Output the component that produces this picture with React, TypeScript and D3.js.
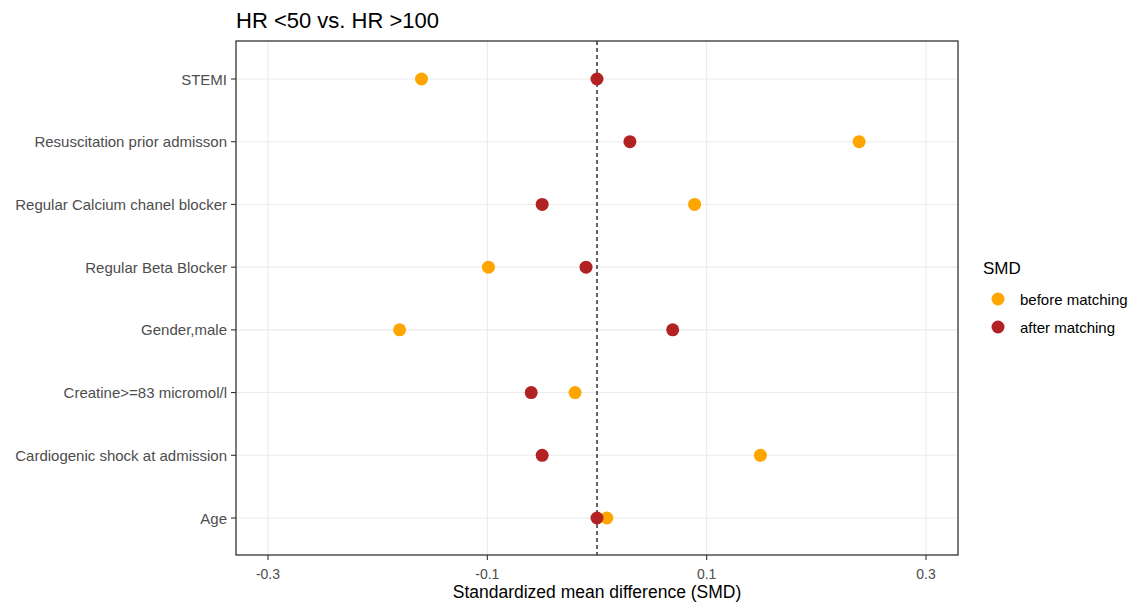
import React from 'react';
import * as d3 from 'd3';

const categories = [
  'STEMI',
  'Resuscitation prior admisson',
  'Regular Calcium chanel blocker',
  'Regular Beta Blocker',
  'Gender,male',
  'Creatine>=83 micromol/l',
  'Cardiogenic shock at admission',
  'Age',
];
const beforeMatching = [-0.16, 0.239, 0.089, -0.099, -0.18, -0.02, 0.149, 0.009];
const afterMatching = [0.0, 0.03, -0.05, -0.01, 0.069, -0.06, -0.05, 0.0];
const xTicks = [-0.3, -0.1, 0.1, 0.3];

const MARGIN = { top: 41, right: 179, bottom: 48, left: 236 };
const FONT = 'Arial, "Liberation Sans", sans-serif';

export default function App() {
  const width = 1137,
    height = 603;
  const boundsWidth = width - MARGIN.left - MARGIN.right;
  const boundsHeight = height - MARGIN.top - MARGIN.bottom;

  // 0 sits at x=597 on the page, 0.1 spans ~109.7px
  const xScale = d3
    .scaleLinear()
    .domain([-0.3 - 32 / 1097, 0.3 + 32 / 1097])
    .range([0, boundsWidth]);

  const yScale = d3
    .scalePoint()
    .domain(categories)
    .range([38, boundsHeight - 37]);

  const gridV = xTicks.map((t) => (
    <line key={t} x1={xScale(t)} x2={xScale(t)} y1={0} y2={boundsHeight} stroke="#ebebeb" strokeWidth={1.1} />
  ));
  const gridH = categories.map((c) => (
    <line key={c} x1={0} x2={boundsWidth} y1={yScale(c)} y2={yScale(c)} stroke="#ebebeb" strokeWidth={1.1} />
  ));

  const points = categories.map((c, i) => (
    <g key={c}>
      <circle cx={xScale(beforeMatching[i])} cy={yScale(c)} r={6.5} fill="#FFA500" />
      <circle cx={xScale(afterMatching[i])} cy={yScale(c)} r={6.5} fill="#B22222" />
    </g>
  ));

  const yLabels = categories.map((c) => (
    <g key={c}>
      <line x1={-5} x2={0} y1={yScale(c)} y2={yScale(c)} stroke="#333" strokeWidth={1.1} />
      <text x={-9} y={yScale(c)} textAnchor="end" dominantBaseline="central" fontSize={15} fill="#4d4d4d">
        {c}
      </text>
    </g>
  ));

  const xLabels = xTicks.map((t) => (
    <g key={t}>
      <line x1={xScale(t)} x2={xScale(t)} y1={boundsHeight} y2={boundsHeight + 5} stroke="#333" strokeWidth={1.1} />
      <text x={xScale(t)} y={boundsHeight + 19} textAnchor="middle" dominantBaseline="central" fontSize={14} fill="#4d4d4d">
        {t.toFixed(1)}
      </text>
    </g>
  ));

  return (
    <svg width={width} height={height} style={{ position: 'absolute', left: 0, top: 0, fontFamily: FONT }}>
      <rect width={width} height={height} fill="white" />
      <text x={MARGIN.left} y={20} fontSize={22} dominantBaseline="central" fill="#000">
        HR {'<'}50 vs. HR {'>'}100
      </text>
      <g transform={`translate(${MARGIN.left},${MARGIN.top})`}>
        {gridV}
        {gridH}
        <line
          x1={xScale(0)}
          x2={xScale(0)}
          y1={0}
          y2={boundsHeight}
          stroke="#000"
          strokeWidth={1.2}
          strokeDasharray="4,3"
        />
        {points}
        <rect x={0} y={0} width={boundsWidth} height={boundsHeight} fill="none" stroke="#333" strokeWidth={1.3} />
        {yLabels}
        {xLabels}
        <text
          x={boundsWidth / 2}
          y={boundsHeight + 37}
          textAnchor="middle"
          dominantBaseline="central"
          fontSize={17.5}
          fill="#000"
        >
          Standardized mean difference (SMD)
        </text>
      </g>
      <g transform="translate(983,0)">
        <text x={0} y={268} fontSize={17} dominantBaseline="central" fill="#000">
          SMD
        </text>
        <circle cx={15} cy={299} r={6.5} fill="#FFA500" />
        <text x={37} y={299} fontSize={15} dominantBaseline="central" fill="#000">
          before matching
        </text>
        <circle cx={15} cy={327} r={6.5} fill="#B22222" />
        <text x={37} y={327} fontSize={15} dominantBaseline="central" fill="#000">
          after matching
        </text>
      </g>
    </svg>
  );
}
